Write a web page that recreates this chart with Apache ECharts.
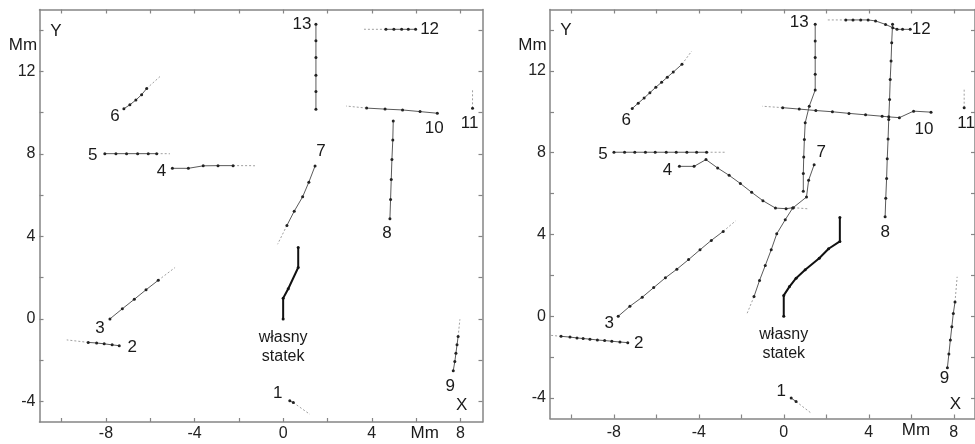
<!DOCTYPE html>
<html><head><meta charset="utf-8">
<script src="https://cdn.jsdelivr.net/npm/echarts@6/dist/echarts.min.js"></script>
<style>html,body{margin:0;padding:0;background:#fff}#c{width:975px;height:444px}</style>
</head><body><div id="c"></div>
<script>
// ---- axis ticks / labels ----
const xTicks = [-10,-8,-6,-4,-2,0,2,4,6,8];
const xLabels = [-8,-4,0,4,8];
const yTicks = [-4,-2,0,2,4,6,8,10,12,14];
const yLabels = [-4,0,4,8,12];
const trackNames = ['1','2','3','4','5','6','7','8','9','10','11','12','13'];
const ownLabel = 'własny\nstatek';

// ---- left panel tracks (first point = labelled end) ----
const L_own = [[0,0],[0,1.0],[0.23,1.46],[0.68,2.49],[0.68,3.46]];
const L_1 = [[0.30,-3.97],[0.46,-4.06]];
const L_1_tail = [[0.46,-4.06],[1.21,-4.63]];
const L_2 = [[-7.40,-1.30],[-7.72,-1.26],[-8.08,-1.21],[-8.42,-1.17],[-8.80,-1.14]];
const L_2_tail = [[-8.80,-1.14],[-9.77,-1.02]];
const L_3 = [[-7.82,0],[-7.26,0.49],[-6.72,0.95],[-6.19,1.41],[-5.64,1.87]];
const L_3_tail = [[-5.64,1.87],[-4.88,2.49]];
const L_4 = [[-5.0,7.30],[-4.28,7.30],[-3.61,7.42],[-2.94,7.43],[-2.26,7.43]];
const L_4_tail = [[-2.26,7.43],[-1.27,7.43]];
const L_5 = [[-8.05,8.01],[-7.55,8.01],[-7.07,8.01],[-6.57,8.01],[-6.09,8.01],[-5.71,8.01]];
const L_5_tail = [[-5.71,8.01],[-5.11,8.01]];
const L_6 = [[-7.19,10.19],[-6.92,10.38],[-6.65,10.61],[-6.39,10.87],[-6.16,11.17]];
const L_6_tail = [[-6.16,11.17],[-5.56,11.75]];
const L_7 = [[1.44,7.41],[1.16,6.63],[0.88,5.92],[0.50,5.22],[0.17,4.53]];
const L_7_tail = [[0.17,4.53],[-0.25,3.62]];
const L_8 = [[4.82,4.85],[4.85,5.79],[4.88,6.76],[4.91,7.73],[4.95,8.67],[4.97,9.59]];
const L_8_tail = [];
const L_9 = [[7.68,-2.51],[7.75,-2.07],[7.80,-1.67],[7.85,-1.26],[7.90,-0.86]];
const L_9_tail = [[7.90,-0.86],[7.98,-0.02]];
const L_10 = [[6.96,9.97],[6.18,10.05],[5.39,10.13],[4.60,10.17],[3.77,10.22]];
const L_10_tail = [[3.77,10.22],[2.84,10.32]];
const L_11 = [[8.55,10.21]];
const L_11_tail = [[8.55,10.21],[8.55,11.13]];
const L_12 = [[5.98,14.04],[5.65,14.04],[5.35,14.04],[5.0,14.04],[4.64,14.04]];
const L_12_tail = [[4.64,14.04],[3.65,14.04]];
const L_13 = [[1.48,14.29],[1.48,13.48],[1.48,12.67],[1.48,11.81],[1.48,11.02],[1.48,10.16]];
const L_13_tail = [];

// ---- right panel tracks ----
const R_own = [[0,0],[0,1.02],[0.27,1.45],[0.58,1.86],[1.01,2.27],[1.67,2.84],[2.11,3.30],[2.64,3.66],[2.64,4.83]];
const R_1 = [[0.35,-4.0],[0.58,-4.17]];
const R_1_tail = [[0.58,-4.17],[1.28,-4.73]];
const R_2 = [[-7.34,-1.29],[-7.71,-1.26],[-8.09,-1.22],[-8.43,-1.19],[-8.77,-1.16],[-9.12,-1.12],[-9.44,-1.09],[-9.73,-1.06],[-10.06,-1.02],[-10.48,-0.98]];
const R_2_tail = [[-10.48,-0.98],[-11,-0.93]];
const R_3 = [[-7.79,0],[-7.24,0.49],[-6.66,0.93],[-6.12,1.40],[-5.57,1.88],[-5.03,2.30],[-4.48,2.77],[-3.94,3.25],[-3.41,3.71],[-2.85,4.15]];
const R_3_tail = [[-2.85,4.15],[-2.26,4.67]];
const R_4 = [[-4.91,7.33],[-4.22,7.33],[-3.66,7.66],[-3.11,7.25],[-2.57,6.89],[-2.04,6.49],[-1.51,6.06],[-0.98,5.65],[-0.39,5.29],[0.11,5.26],[0.45,5.31]];
const R_4_tail = [[0.45,5.31],[1.2,5.25]];
const R_5 = [[-7.99,8.02],[-7.49,8.02],[-7.01,8.02],[-6.51,8.02],[-6.05,8.02],[-5.53,8.02],[-5.06,8.02],[-4.56,8.02],[-4.10,8.02],[-3.63,8.02]];
const R_5_tail = [[-3.63,8.02],[-2.69,8.02]];
const R_6 = [[-7.13,10.16],[-6.85,10.42],[-6.57,10.67],[-6.30,10.93],[-6.02,11.2],[-5.75,11.44],[-5.48,11.69],[-5.20,11.94],[-4.79,12.32]];
const R_6_tail = [[-4.79,12.32],[-4.33,12.97]];
const R_7 = [[1.43,7.41],[1.17,6.65],[1.07,5.83],[0.42,5.29],[0.07,4.72],[-0.33,4.03],[-0.59,3.25],[-0.87,2.48],[-1.14,1.75],[-1.40,0.96]];
const R_7_tail = [[-1.40,0.96],[-1.72,0.15]];
const R_8 = [[4.77,4.86],[4.80,5.77],[4.84,6.73],[4.87,7.70],[4.91,8.67],[4.94,9.62],[4.98,10.6],[5.01,11.58],[5.05,12.48],[5.08,13.38],[5.12,14.28]];
const R_8_tail = [];
const R_9 = [[7.70,-2.52],[7.77,-1.85],[7.84,-1.16],[7.91,-0.51],[7.98,0.14],[8.06,0.70]];
const R_9_tail = [[8.06,0.70],[8.16,1.93]];
const R_10 = [[6.93,9.98],[6.11,10.03],[5.44,9.71],[4.94,9.75],[4.63,9.78],[3.85,9.85],[3.07,9.92],[2.29,10.0],[1.51,10.06],[0.73,10.13],[-0.05,10.2]];
const R_10_tail = [[-0.05,10.2],[-1.01,10.27]];
const R_11 = [[8.49,10.2]];
const R_11_tail = [[8.49,10.2],[8.49,11.1]];
const R_12 = [[5.95,14.03],[5.59,14.03],[5.33,14.03],[5.13,14.11],[4.79,14.27],[4.32,14.44],[3.97,14.49],[3.62,14.49],[3.26,14.49],[2.92,14.49]];
const R_12_tail = [[2.92,14.49],[2.06,14.49]];
const R_13 = [[1.48,14.28],[1.48,13.46],[1.48,12.65],[1.48,11.83],[1.48,11.06],[1.20,10.27],[1.01,9.46],[0.97,8.64],[0.94,7.79],[0.92,6.98],[0.92,6.11]];
const R_13_tail = [];

const leftTracks = [[L_1,L_1_tail],[L_2,L_2_tail],[L_3,L_3_tail],[L_4,L_4_tail],[L_5,L_5_tail],[L_6,L_6_tail],[L_7,L_7_tail],[L_8,L_8_tail],[L_9,L_9_tail],[L_10,L_10_tail],[L_11,L_11_tail],[L_12,L_12_tail],[L_13,L_13_tail]];
const rightTracks = [[R_1,R_1_tail],[R_2,R_2_tail],[R_3,R_3_tail],[R_4,R_4_tail],[R_5,R_5_tail],[R_6,R_6_tail],[R_7,R_7_tail],[R_8,R_8_tail],[R_9,R_9_tail],[R_10,R_10_tail],[R_11,R_11_tail],[R_12,R_12_tail],[R_13,R_13_tail]];

// ---- styling (pixel offsets of labels relative to labelled end) ----
const leftOffsets = [[-12,-7],[13,2],[-10,9],[-11,3],[-12,2],[-9,8],[6,-15],[-3,14],[-3,16],[-3,15],[-3,15],[14,0],[-14,0]];
const rightOffsets = [[-10,-7],[11,1],[-9,7],[-12,4],[-11,2],[-6,12],[7,-12],[0,15],[-3,11],[-7,17],[2,16],[11,0],[-16,-2]];
const FONT = 'Liberation Sans, Arial, sans-serif';
const AX = '#858585';

function axesFor(g, labMargin) {
  const common = {
    gridIndex: g, type: 'value', splitLine: {show: false},
    axisLine: {show: true, onZero: false, lineStyle: {color: AX, width: 1.5}},
  };
  const xs = [
    Object.assign({}, common, {position: 'bottom', min: -11, max: 9,
      axisTick: {show: true, inside: true, length: 4, customValues: xTicks, lineStyle: {color: AX, width: 1.2}},
      axisLabel: {show: true, customValues: xLabels, margin: labMargin, fontSize: 16, color: '#222', fontFamily: FONT}}),
    Object.assign({}, common, {position: 'top', min: -11, max: 9,
      axisTick: {show: true, inside: true, length: 4, customValues: xTicks, lineStyle: {color: AX, width: 1.2}},
      axisLabel: {show: false}})
  ];
  const ys = [
    Object.assign({}, common, {position: 'left', min: -5, max: 15,
      axisTick: {show: true, inside: true, length: 4, customValues: yTicks, lineStyle: {color: AX, width: 1.2}},
      axisLabel: {show: true, customValues: yLabels, margin: 4, fontSize: 16, color: '#222', fontFamily: FONT}}),
    Object.assign({}, common, {position: 'right', min: -5, max: 15,
      axisTick: {show: true, inside: true, length: 4, customValues: yTicks, lineStyle: {color: AX, width: 1.2}},
      axisLabel: {show: false}})
  ];
  return {xs, ys};
}

const a0 = axesFor(0, 4), a1 = axesFor(1, 6);
const series = [];
const labelStyle = {show: true, position: 'inside', fontSize: 17, color: '#1a1a1a', fontFamily: FONT, opacity: 1,
  textBorderWidth: 0, textBorderColor: 'transparent', textShadowBlur: 0};

function addTracks(g, tracks, offsets, own) {
  const xi = g * 2, yi = g * 2;
  tracks.forEach((t, i) => {
    const [pts, tail] = t;
    if (tail.length) series.push({type: 'line', xAxisIndex: xi, yAxisIndex: yi, data: tail, symbol: 'none',
      lineStyle: {color: '#a0a0a0', width: 1, type: [2, 2]}, silent: true, animation: false, z: 2});
    series.push({type: 'line', xAxisIndex: xi, yAxisIndex: yi, data: pts, symbol: 'circle', symbolSize: 3, showSymbol: true,
      lineStyle: {color: '#5a5a5a', width: 1}, itemStyle: {color: '#222'}, silent: true, animation: false, z: 3});
    series.push({type: 'scatter', xAxisIndex: xi, yAxisIndex: yi, data: [pts[0]], symbolSize: 0, silent: true, animation: false,
      itemStyle: {color: '#1a1a1a', opacity: 1},
      label: Object.assign({}, labelStyle, {formatter: trackNames[i], offset: offsets[i]})});
  });
  series.push({type: 'line', xAxisIndex: xi, yAxisIndex: yi, data: own, symbol: 'circle', symbolSize: 3, showSymbol: true,
    lineStyle: {color: '#111', width: 2}, itemStyle: {color: '#111'}, silent: true, animation: false, z: 4});
  series.push({type: 'scatter', xAxisIndex: xi, yAxisIndex: yi, data: [own[0]], symbolSize: 0, silent: true, animation: false,
    itemStyle: {color: '#1a1a1a', opacity: 1},
    label: Object.assign({}, labelStyle, {formatter: ownLabel, offset: [0, 28], fontSize: 16, lineHeight: 19})});
}
addTracks(0, leftTracks, leftOffsets, L_own);
addTracks(1, rightTracks, rightOffsets, R_own);

function txt(x, y, s) {
  return {type: 'text', x: x, y: y, silent: true,
    style: {text: s, fontSize: 17, fill: '#1a1a1a', fontFamily: FONT, textAlign: 'center', textVerticalAlign: 'middle'}};
}

const chart = echarts.init(document.getElementById('c'), null, {renderer: 'canvas'});
chart.setOption({
  animation: false,
  backgroundColor: '#fff',
  grid: [
    {left: 39.5, top: 9.5, width: 443, height: 412.5},
    {left: 550, top: 9.5, width: 428, height: 409}
  ],
  xAxis: a0.xs.concat(a1.xs),
  yAxis: a0.ys.concat(a1.ys),
  series: series,
  graphic: [
    txt(56, 31, 'Y'), txt(23, 45.5, 'Mm'), txt(461.7, 405.7, 'X'), txt(424.7, 433, 'Mm'),
    txt(566, 30.5, 'Y'), txt(532.5, 45, 'Mm'), txt(955.3, 404, 'X'), txt(916, 430, 'Mm')
  ]
});
</script></body></html>
